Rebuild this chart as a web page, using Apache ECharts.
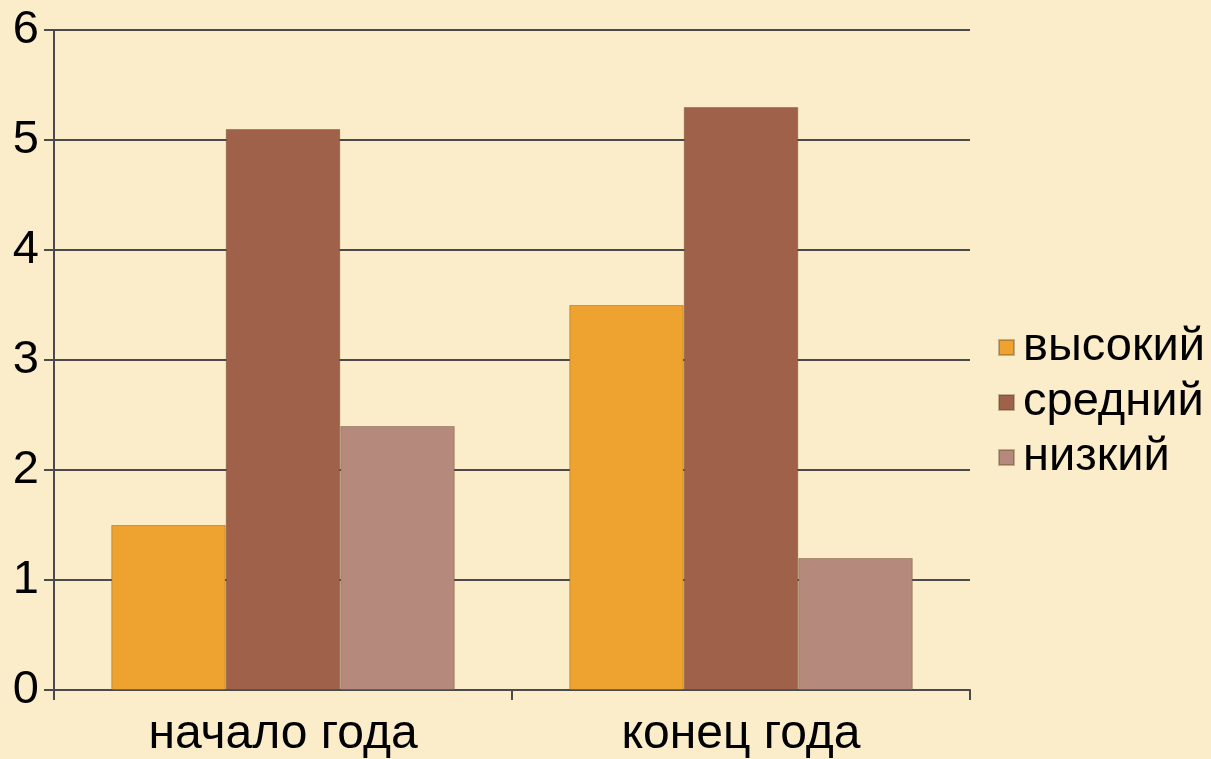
<!DOCTYPE html>
<html>
<head>
<meta charset="utf-8">
<script src="https://cdn.jsdelivr.net/npm/echarts@6/dist/echarts.min.js"></script>
<style>
  html, body { margin: 0; padding: 0; background: #fbedca; }
  #chart { width: 1211px; height: 759px; }
</style>
</head>
<body>
<div id="chart"></div>
<script>
// данные
const categories = ['начало года', 'конец года'];
const seriesNames = ['высокий', 'средний', 'низкий'];
const highValues = [1.5, 3.5];
const midValues = [5.1, 5.3];
const lowValues = [2.4, 1.2];
const yTicks = [0, 1, 2, 3, 4, 5, 6];

const colors = ['#eea22f', '#a0614a', '#b5897c'];
const values = [highValues, midValues, lowValues];

const chart = echarts.init(document.getElementById('chart'));

const option = {
  backgroundColor: '#fbedca',
  textStyle: { fontFamily: 'Liberation Sans, Arial, sans-serif' },
  grid: { left: 54, right: 241, top: 30, bottom: 66 },
  legend: {
    orient: 'vertical',
    left: 993,
    top: 315,
    itemWidth: 15,
    itemHeight: 15,
    itemGap: 0,
    icon: 'rect',
    data: seriesNames,
    textStyle: { fontSize: 47, color: '#000', lineHeight: 55, padding: [0, 0, 0, 4] }
  },
  xAxis: {
    type: 'category',
    data: categories,
    axisLine: { lineStyle: { color: '#4a4a4a', width: 2 } },
    axisTick: { show: true, length: 10, lineStyle: { color: '#4a4a4a', width: 2 } },
    axisLabel: { fontSize: 48, color: '#000', margin: 21 }
  },
  yAxis: {
    type: 'value',
    min: yTicks[0],
    max: yTicks[yTicks.length - 1],
    interval: 1,
    axisLine: { show: true, lineStyle: { color: '#4a4a4a', width: 2 } },
    axisTick: { show: true, length: 10, lineStyle: { color: '#4a4a4a', width: 2 } },
    axisLabel: { fontSize: 47, color: '#000', margin: 15 },
    splitLine: { show: true, lineStyle: { color: '#4a4a4a', width: 2 } }
  },
  series: seriesNames.map((name, i) => ({
    name: name,
    type: 'bar',
    data: values[i],
    barGap: '0%',
    barCategoryGap: '25%',
    itemStyle: { color: colors[i], borderColor: 'rgba(90,60,30,0.35)', borderWidth: 1 }
  }))
};

chart.setOption(option);
</script>
</body>
</html>
